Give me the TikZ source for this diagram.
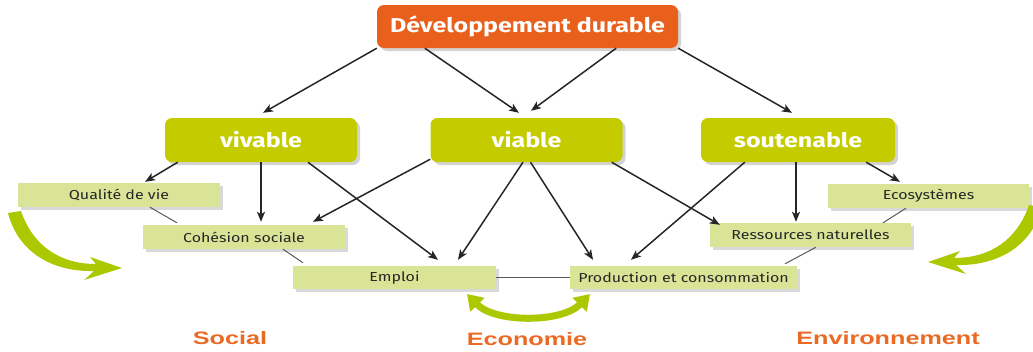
\documentclass[tikz,border=0pt]{standalone}
\usepackage{fontspec}
\setmainfont[FakeStretch=1.23]{Fira Sans}
\newfontfamily\headfont[FakeStretch=1.25]{Fira Sans}
\newfontfamily\domainfont[FakeStretch=1.4]{Liberation Sans}
\usetikzlibrary{arrows.meta,shadows}

\definecolor{ddorange}{RGB}{232,96,28}
\definecolor{headgreen}{RGB}{196,204,0}
\definecolor{boxgreen}{RGB}{218,228,150}
\definecolor{arrowgreen}{RGB}{172,200,0}
\definecolor{domainorange}{RGB}{234,106,36}

\newcommand{\swoosh}{(8,213) .. controls (18,252) and (52,272) .. (94,271)
  -- (84,280) -- (122,268) -- (90,257) -- (96,264)
  .. controls (60,264) and (33,246) .. (21,211) -- cycle}

\tikzset{
  headbox/.style={fill=headgreen, rounded corners=7pt, text=white, inner sep=0pt,
    font=\headfont\fontsize{20}{24}\selectfont\bfseries, minimum width=192pt, minimum height=44pt,
    drop shadow={shadow xshift=3pt, shadow yshift=-3pt, opacity=0.35}},
  ddbox/.style={headbox, fill=ddorange, minimum width=301pt, minimum height=43pt},
  itembox/.style={fill=boxgreen, text=black!85, inner sep=0pt,
    font=\fontsize{13}{15}\selectfont, minimum height=24pt,
    drop shadow={shadow xshift=3pt, shadow yshift=-3pt, opacity=0.3}},
  arr/.style={-{Stealth[length=10pt,width=8pt,inset=2.5pt]}, line width=1.5pt, black!85},
  link/.style={line width=1pt, black!65},
  bigarrow/.style={line width=7pt, arrowgreen, {Triangle[length=15pt,width=19pt]}-{Triangle[length=15pt,width=19pt]}},
  domainlabel/.style={text=domainorange, font=\domainfont\fontsize{18}{20}\selectfont\bfseries}
}

\begin{document}
\begin{tikzpicture}[x=1pt,y=-1pt]
  \useasboundingbox (0,0) rectangle (1033,351);

  % main boxes
  \node[ddbox] (dd) at (527.5,26.5) {Développement durable};
  \node[headbox] (vivable) at (261,140) {vivable};
  \node[headbox] (viable) at (526.5,140) {viable};
  \node[headbox, minimum width=194pt] (soutenable) at (798,140) {soutenable};

  % items
  \node[itembox, minimum width=202pt] (qualite) at (119,195) {Qualité de vie};
  \node[itembox, minimum width=202pt] (cohesion) at (244,237) {Cohésion sociale};
  \node[itembox, minimum width=203pt, minimum height=23pt] (emploi) at (394.5,277.5) {Emploi};
  \node[itembox, minimum width=227pt, minimum height=23pt] (production) at (683.5,277.5) {Production et consommation};
  \node[itembox, minimum width=201pt] (ressources) at (810.5,235) {Ressources naturelles};
  \node[itembox, minimum width=201pt] (ecosystemes) at (928.5,196) {Ecosystèmes};

  % domains
  \node[domainlabel] (social) at (230,338) {Social};
  \node[domainlabel] (economie) at (527,339) {Economie};
  \node[domainlabel] (environnement) at (888,338) {Environnement};

  % arrows from the top
  \draw[arr] (dd.south west) -- ([xshift=2pt,yshift=5pt]vivable.north);
  \draw[arr] ([xshift=48pt]dd.south west) -- ([xshift=-7.5pt,yshift=5pt]viable.north);
  \draw[arr] ([xshift=-62pt]dd.south east) -- ([xshift=4.5pt,yshift=7pt]viable.north);
  \draw[arr] (dd.south east) -- ([xshift=-6pt,yshift=5pt]soutenable.north);

  % arrows to the items
  \draw[arr] ([xshift=13pt]vivable.south west) -- ([xshift=26pt,yshift=1pt]qualite.north);
  \draw[arr] (vivable.south) -- ([xshift=17pt,yshift=3pt]cohesion.north);
  \draw[arr] ([xshift=47pt]vivable.south) -- ([xshift=43.5pt,yshift=6pt]emploi.north);
  \draw[arr] ([yshift=3pt]viable.south west) -- ([xshift=69pt,yshift=3pt]cohesion.north);
  \draw[arr] ([xshift=-3.5pt]viable.south) -- ([xshift=63.5pt,yshift=6pt]emploi.north);
  \draw[arr] ([xshift=4pt]viable.south) -- ([xshift=-90.5pt,yshift=6pt]production.north);
  \draw[arr] ([xshift=-11pt]viable.south east) -- ([xshift=10pt,yshift=-2pt]ressources.north west);
  \draw[arr] ([xshift=44pt]soutenable.south west) -- ([xshift=-52.5pt,yshift=6pt]production.north);
  \draw[arr] ([xshift=-2pt]soutenable.south) -- ([xshift=-14.5pt,yshift=1pt]ressources.north);
  \draw[arr] ([xshift=-29pt]soutenable.south east) -- ([xshift=-28.5pt,yshift=2pt]ecosystemes.north);

  % links between items
  \draw[link] ([xshift=31pt]qualite.south) -- ([xshift=-67pt,yshift=2pt]cohesion.north);
  \draw[link] ([xshift=39pt]cohesion.south) -- ([xshift=-91.5pt,yshift=3pt]emploi.north);
  \draw[link] (emploi.east) -- (production.west);
  \draw[link] ([xshift=-22.5pt]ecosystemes.south) -- ([xshift=72.5pt]ressources.north);
  \draw[link] ([xshift=5.5pt]ressources.south) -- ([xshift=101.5pt,yshift=2pt]production.north);

  % green arrows
  \fill[arrowgreen] \swoosh;
  \fill[arrowgreen, shift={(1050,-6)}, xscale=-1] \swoosh;
  \draw[bigarrow] (467,294) .. controls (495,323) and (562,323) .. (590,294);
\end{tikzpicture}
\end{document}
